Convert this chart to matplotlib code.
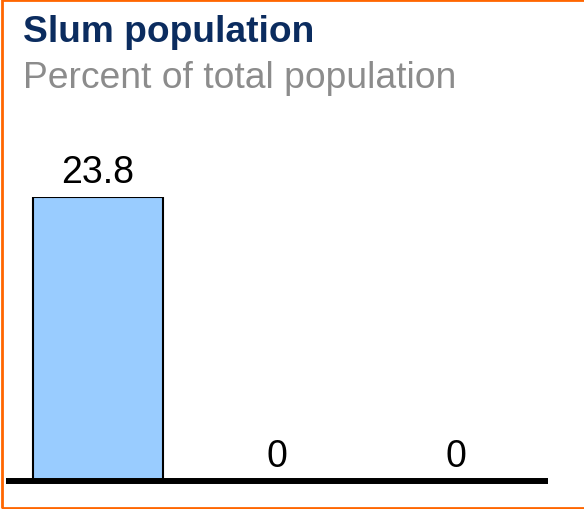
import matplotlib.pyplot as plt
from matplotlib.patches import Rectangle

plt.rcParams['font.family'] = ['Liberation Sans', 'DejaVu Sans']

# slum population share, percent of total population
categories = ['A', 'B', 'C']
values = [23.8, 0, 0]
labels = ['23.8', '0', '0']

fig = plt.figure(figsize=(5.84, 5.09), dpi=100)

# orange frame around the whole panel (right side runs off the edge)
fig.patches.append(Rectangle((2 / 584, 1.5 / 509), 1.0, 1 - 1.5 / 509, transform=fig.transFigure,
                             fill=False, edgecolor='#ff6600', linewidth=2))

fig.text(23 / 584, 1 - 33 / 509, 'Slum population', fontsize=26.7, fontweight='bold',
         color='#0b2c5f', va='center', ha='left')
fig.text(23 / 584, 1 - 79 / 509, 'Percent of total population', fontsize=26.8,
         color='#8c8c8c', va='center', ha='left')

ax = fig.add_axes([6 / 584, (509 - 481) / 509, (548 - 6) / 584, (481 - 197) / 509])
x = list(range(len(categories)))
ax.bar(x, values, width=0.726, color='#99ccff', edgecolor='black', linewidth=1.5, zorder=2)
ax.set_xlim(-0.514, 2.514)
ax.set_ylim(0, 23.8)
ax.axhline(0, color='black', linewidth=4.3, zorder=3, clip_on=False, solid_capstyle='butt')

for xi, v, lab in zip(x, values, labels):
    ax.annotate(lab, (xi, v), xytext=(0, 4), textcoords='offset points',
                ha='center', va='bottom', fontsize=27, annotation_clip=False)

ax.axis('off')
fig.savefig('out.png', dpi=100)
